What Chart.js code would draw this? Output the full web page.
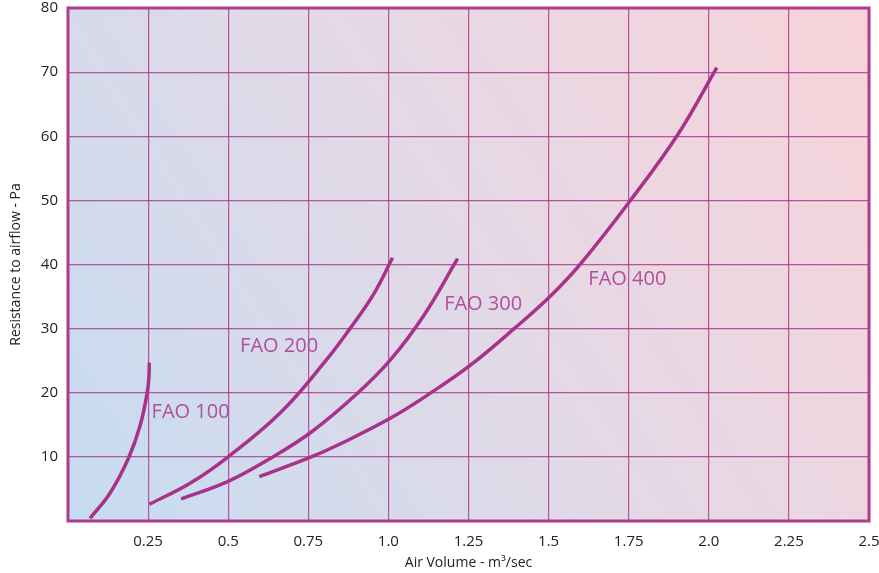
<!DOCTYPE html>
<html lang="en">
<head>
    <meta charset="UTF-8">
    <title>Resistance to airflow</title>
    <script src="https://cdn.jsdelivr.net/npm/chart.js"></script>
    <style>
        html, body { margin: 0; padding: 0; background: #fff; }
        #chartContainer { width: 879px; height: 573px; position: relative; }
    </style>
</head>
<body>
    <div id="chartContainer">
        <canvas id="airflowChart"></canvas>
    </div>

    <script>
        // values
        const fao100X = [0.0687, 0.131, 0.188, 0.2247, 0.2475, 0.2525, 0.2537];
        const fao100Y = [0.42, 4.33, 9.7, 14.8, 20.1, 22.5, 24.7];

        const fao200X = [0.254, 0.381, 0.497, 0.662, 0.807, 0.88, 0.953, 1.013];
        const fao200Y = [2.61, 5.89, 9.9, 16.83, 25.16, 30.0, 35.3, 41.05];

        const fao300X = [0.353, 0.498, 0.62, 0.7575, 0.901, 1.007, 1.11, 1.216];
        const fao300Y = [3.44, 6.14, 9.43, 13.8, 19.8, 25.16, 32.0, 40.9];

        const fao400X = [0.597, 0.7575, 0.849, 1.007, 1.13, 1.258, 1.395, 1.51, 1.603, 1.754, 1.905, 2.025];
        const fao400Y = [6.92, 9.95, 12.0, 16.05, 19.9, 24.38, 30.11, 35.3, 40.3, 49.9, 60.4, 70.7];

        const seriesNames = ["FAO 100", "FAO 200", "FAO 300", "FAO 400"];
        const labelX = [0.261, 0.537, 1.174, 1.624];
        const labelY = [16.9, 27.2, 33.75, 37.7];

        const xTickLabels = ["", "0.25", "0.5", "0.75", "1.0", "1.25", "1.5", "1.75", "2.0", "2.25", "2.5"];
        const yTickLabels = ["", "10", "20", "30", "40", "50", "60", "70", "80"];

        const lineColor = "#a8328a";
        const gridColor = "rgba(172, 48, 140, 0.8)";
        const textColor = "#222";

        const toPoints = (xs, ys) => xs.map((x, i) => ({ x: x, y: ys[i] }));
        const allX = [fao100X, fao200X, fao300X, fao400X];
        const allY = [fao100Y, fao200Y, fao300Y, fao400Y];

        // gradient background + frame round the plot area
        const plotBackground = {
            id: "plotBackground",
            beforeDraw(chart) {
                const { ctx, chartArea: a } = chart;
                const g = ctx.createLinearGradient(a.left, a.bottom, a.right, a.top);
                g.addColorStop(0, "#c6dcf1");
                g.addColorStop(0.5, "#e3d9e6");
                g.addColorStop(1, "#f8d3d9");
                ctx.save();
                ctx.fillStyle = g;
                ctx.fillRect(a.left, a.top, a.right - a.left, a.bottom - a.top);
                ctx.restore();
            },
            beforeDatasetsDraw(chart) {
                const { ctx, chartArea: a } = chart;
                ctx.save();
                ctx.strokeStyle = "#b03a8c";
                ctx.lineWidth = 3;
                ctx.strokeRect(a.left, a.top, a.right - a.left, a.bottom - a.top);
                ctx.restore();
            }
        };

        // curve names written next to each curve
        const curveLabels = {
            id: "curveLabels",
            afterDatasetsDraw(chart) {
                const { ctx, scales } = chart;
                ctx.save();
                ctx.font = "20px 'Open Sans'";
                ctx.fillStyle = "#b24f9b";
                ctx.textAlign = "left";
                ctx.textBaseline = "middle";
                seriesNames.forEach((name, i) => {
                    ctx.fillText(name, scales.x.getPixelForValue(labelX[i]), scales.y.getPixelForValue(labelY[i]));
                });
                ctx.restore();
            }
        };

        const ctx = document.getElementById("airflowChart").getContext("2d");
        new Chart(ctx, {
            type: "line",
            data: {
                datasets: seriesNames.map((name, i) => ({
                    label: name,
                    data: toPoints(allX[i], allY[i]),
                    borderColor: lineColor,
                    borderWidth: 3.5,
                    pointRadius: 0,
                    tension: 0.4,
                    fill: false
                }))
            },
            options: {
                responsive: true,
                maintainAspectRatio: false,
                animation: false,
                layout: { padding: { top: 8, right: 10, left: 0, bottom: 0 } },
                plugins: {
                    legend: { display: false },
                    tooltip: { enabled: false }
                },
                scales: {
                    x: {
                        type: "linear",
                        min: 0,
                        max: 2.5,
                        afterFit(axis) {
                            axis.height = 52;
                            axis.paddingLeft = 0;
                            axis.paddingRight = 0;
                        },
                        afterBuildTicks(axis) {
                            axis.ticks = xTickLabels.map((_, i) => ({ value: i * 0.25 }));
                        },
                        grid: { color: gridColor, lineWidth: 1.2, drawTicks: false },
                        border: { display: false },
                        ticks: {
                            padding: 12,
                            color: textColor,
                            font: { family: "'Open Sans'", size: 15 },
                            maxRotation: 0,
                            autoSkip: false,
                            callback: (v, i) => xTickLabels[i]
                        },
                        title: {
                            display: true,
                            text: "Air Volume - m³/sec",
                            color: textColor,
                            font: { family: "'Open Sans'", size: 14 },
                            padding: { top: 0, bottom: 2 }
                        }
                    },
                    y: {
                        min: 0,
                        max: 80,
                        afterFit(axis) {
                            axis.width = 68;
                            axis.paddingTop = 0;
                            axis.paddingBottom = 0;
                        },
                        afterBuildTicks(axis) {
                            axis.ticks = yTickLabels.map((_, i) => ({ value: i * 10 }));
                        },
                        grid: { color: gridColor, lineWidth: 1.2, drawTicks: false },
                        border: { display: false },
                        ticks: {
                            padding: 10,
                            color: textColor,
                            font: { family: "'Open Sans'", size: 15 },
                            autoSkip: false,
                            callback: (v, i) => yTickLabels[i]
                        },
                        title: {
                            display: true,
                            text: "Resistance to airflow - Pa",
                            color: textColor,
                            font: { family: "'Open Sans'", size: 14 },
                            padding: { top: 8, bottom: 0 }
                        }
                    }
                }
            },
            plugins: [plotBackground, curveLabels]
        });
    </script>
</body>
</html>
